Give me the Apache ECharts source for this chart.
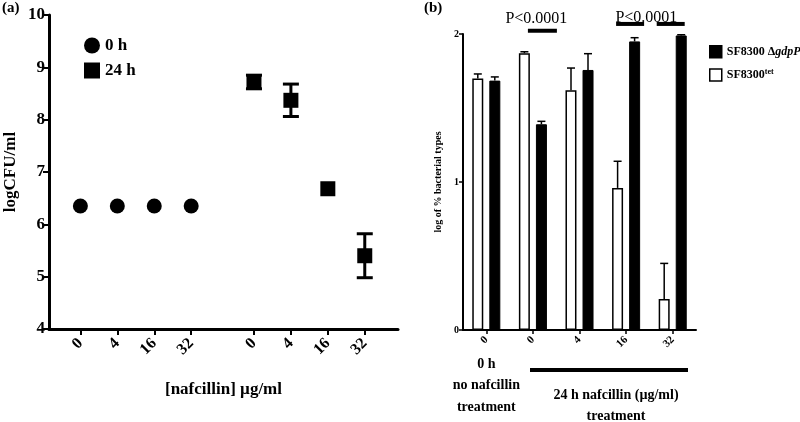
<!DOCTYPE html>
<html>
<head>
<meta charset="utf-8">
<script src="https://cdn.jsdelivr.net/npm/echarts@6/dist/echarts.min.js"></script>
<style>
  html, body { margin: 0; padding: 0; background: #fff; }
  #chart { width: 800px; height: 422px; }
</style>
</head>
<body>
<div id="chart"></div>
<script>
// panel (a): log CFU/ml by nafcillin dose
const doses = ['0', '4', '16', '32'];
const cfu0h = [6.35, 6.35, 6.35, 6.35];
const cfu24h = [8.72, 8.37, 6.68, 5.40];
const cfu24hErr = [0.13, 0.31, 0, 0.42];

// panel (b): log of % bacterial types
const bCats = ['0', '0', '4', '16', '32'];
const tetVals = [1.70, 1.87, 1.62, 0.96, 0.21];
const tetErr = [0.03, 0.01, 0.15, 0.18, 0.24];
const gdpVals = [1.685, 1.39, 1.757, 1.95, 1.99];
const gdpErr = [0.025, 0.02, 0.11, 0.025, 0.005];

const FONT = 'Liberation Serif';
const groupStart = [0.85, 5.55];
const pos = (g, i) => groupStart[g] + i;
const tickPos = [0, 1].flatMap(g => doses.map((d, i) => pos(g, i)));

const BAR_W = 11;
const BAR_OFF = 8.5;

const chart = echarts.init(document.getElementById('chart'));

function leftErr(params, api) {
  if (!api.value(2)) return null;
  const x = api.value(0);
  const lo = api.coord([x, api.value(1) - api.value(2)]);
  const hi = api.coord([x, api.value(1) + api.value(2)]);
  const cap = 8;
  const style = { stroke: '#000', lineWidth: 3 };
  return {
    type: 'group',
    children: [
      { type: 'line', shape: { x1: lo[0], y1: lo[1], x2: hi[0], y2: hi[1] }, style },
      { type: 'line', shape: { x1: hi[0] - cap, y1: hi[1], x2: hi[0] + cap, y2: hi[1] }, style },
      { type: 'line', shape: { x1: lo[0] - cap, y1: lo[1], x2: lo[0] + cap, y2: lo[1] }, style }
    ]
  };
}

function upperErr(offset) {
  return function (params, api) {
    const base = api.coord([api.value(0), api.value(1)]);
    const top = api.coord([api.value(0), api.value(1) + api.value(2)]);
    const x = base[0] + offset;
    const cap = 4;
    const style = { stroke: '#000', lineWidth: 1.5 };
    return {
      type: 'group',
      children: [
        { type: 'line', shape: { x1: x, y1: base[1], x2: x, y2: top[1] }, style },
        { type: 'line', shape: { x1: x - cap, y1: top[1], x2: x + cap, y2: top[1] }, style }
      ]
    };
  };
}

const boldText = (size) => ({ color: '#000', fontFamily: FONT, fontWeight: 'bold', fontSize: size });

const option = {
  backgroundColor: '#fff',
  animation: false,
  grid: [
    { left: 49, top: 15, right: 402, bottom: 93 },
    { left: 463, top: 34, right: 104, bottom: 92 }
  ],
  legend: [
    {
      orient: 'vertical',
      left: 79,
      top: 32,
      itemWidth: 16,
      itemHeight: 16,
      itemGap: 8,
      textStyle: boldText(17),
      data: [
        { name: '0 h', icon: 'circle' },
        { name: '24 h', icon: 'rect' }
      ]
    },
    {
      orient: 'vertical',
      left: 704,
      top: 40,
      itemWidth: 12,
      itemHeight: 12,
      itemGap: 9,
      textStyle: Object.assign(boldText(12), {
        rich: {
          a: boldText(12),
          i: { color: '#000', fontFamily: FONT, fontWeight: 'bold', fontStyle: 'italic', fontSize: 12 },
          s: { color: '#000', fontFamily: FONT, fontWeight: 'bold', fontSize: 8, padding: [0, 0, 7, 0] }
        }
      }),
      formatter: function (name) {
        if (name === 'SF8300 ΔgdpP') return '{a|SF8300 Δ}{i|gdpP}';
        return '{a|SF8300}{s|tet}';
      },
      data: [
        { name: 'SF8300 ΔgdpP', icon: 'rect', itemStyle: { color: '#000', borderColor: '#000', borderWidth: 1.5 } },
        { name: 'SF8300 tet', icon: 'rect', itemStyle: { color: '#fff', borderColor: '#000', borderWidth: 1.5 } }
      ]
    }
  ],
  xAxis: [
    {
      gridIndex: 0,
      type: 'value',
      min: 0,
      max: 9.45,
      name: '[nafcillin] µg/ml',
      nameLocation: 'middle',
      nameGap: 52,
      nameTextStyle: boldText(17),
      splitLine: { show: false },
      axisLine: { show: true, onZero: false, lineStyle: { color: '#000', width: 3 } },
      axisTick: { show: true, customValues: tickPos, length: 6, lineStyle: { color: '#000', width: 2 } },
      axisLabel: Object.assign(boldText(16), {
        customValues: tickPos,
        rotate: 45,
        margin: 12,
        formatter: function (v) {
          const idx = tickPos.findIndex(p => Math.abs(p - v) < 1e-6);
          return idx >= 0 ? doses[idx % doses.length] : '';
        }
      })
    },
    {
      gridIndex: 1,
      type: 'category',
      data: bCats,
      boundaryGap: true,
      axisLine: { show: true, onZero: false, lineStyle: { color: '#000', width: 2 } },
      axisTick: { show: true, alignWithLabel: true, length: 4, lineStyle: { color: '#000', width: 1.5 } },
      axisLabel: Object.assign(boldText(11), { rotate: 45, margin: 8, interval: 0 })
    }
  ],
  yAxis: [
    {
      gridIndex: 0,
      type: 'value',
      min: 4,
      max: 10,
      interval: 1,
      name: 'logCFU/ml',
      nameLocation: 'middle',
      nameGap: 30,
      nameTextStyle: boldText(17),
      splitLine: { show: false },
      axisLine: { show: true, lineStyle: { color: '#000', width: 3 } },
      axisTick: { show: true, length: 6, lineStyle: { color: '#000', width: 2 } },
      axisLabel: Object.assign(boldText(17), { margin: 4 })
    },
    {
      gridIndex: 1,
      type: 'value',
      min: 0,
      max: 2,
      interval: 1,
      name: 'log of % bacterial types',
      nameLocation: 'middle',
      nameGap: 20,
      nameTextStyle: boldText(10),
      splitLine: { show: false },
      axisLine: { show: true, lineStyle: { color: '#000', width: 2 } },
      axisTick: { show: true, length: 4, lineStyle: { color: '#000', width: 1.5 } },
      axisLabel: Object.assign(boldText(10), { margin: 4 })
    }
  ],
  series: [
    {
      name: '0 h',
      type: 'scatter',
      xAxisIndex: 0,
      yAxisIndex: 0,
      symbol: 'circle',
      symbolSize: 15,
      itemStyle: { color: '#000', opacity: 1 },
      data: cfu0h.map((v, i) => [pos(0, i), v])
    },
    {
      name: '24 h',
      type: 'scatter',
      xAxisIndex: 0,
      yAxisIndex: 0,
      symbol: 'rect',
      symbolSize: 15,
      itemStyle: { color: '#000', opacity: 1 },
      data: cfu24h.map((v, i) => [pos(1, i), v]),
      z: 3
    },
    {
      type: 'custom',
      xAxisIndex: 0,
      yAxisIndex: 0,
      renderItem: leftErr,
      data: cfu24h.map((v, i) => [pos(1, i), v, cfu24hErr[i]]),
      z: 2
    },
    {
      name: 'SF8300 tet',
      type: 'bar',
      xAxisIndex: 1,
      yAxisIndex: 1,
      barWidth: BAR_W,
      barGap: '55%',
      itemStyle: { color: '#fff', borderColor: '#000', borderWidth: 1.5 },
      data: tetVals
    },
    {
      name: 'SF8300 ΔgdpP',
      type: 'bar',
      xAxisIndex: 1,
      yAxisIndex: 1,
      barWidth: BAR_W,
      barGap: '55%',
      itemStyle: { color: '#000', borderColor: '#000', borderWidth: 1 },
      data: gdpVals
    },
    {
      type: 'custom',
      xAxisIndex: 1,
      yAxisIndex: 1,
      renderItem: upperErr(-BAR_OFF),
      data: tetVals.map((v, i) => [i, v, tetErr[i]]),
      z: 3
    },
    {
      type: 'custom',
      xAxisIndex: 1,
      yAxisIndex: 1,
      renderItem: upperErr(BAR_OFF),
      data: gdpVals.map((v, i) => [i, v, gdpErr[i]]),
      z: 3
    }
  ]
};

chart.setOption(option);

// annotations placed from the category axis of panel (b)
const px = (cat, val) => chart.convertToPixel({ gridIndex: 1 }, [cat, val]);
const c1 = px(1, 2.022);
const c3 = px(3, 2.068);
const c4 = px(4, 2.068);
const lineStyle = { stroke: '#000', lineWidth: 4 };
const textStyle = (size, bold) => ({
  fill: '#000',
  font: (bold ? 'bold ' : '') + size + 'px "' + FONT + '"',
  textAlign: 'center',
  textVerticalAlign: 'middle'
});

chart.setOption({
  graphic: [
    { type: 'text', left: 2, top: 1, style: { text: '(a)', fill: '#000', font: 'bold 15px "' + FONT + '"' } },
    { type: 'text', left: 424, top: 1, style: { text: '(b)', fill: '#000', font: 'bold 15px "' + FONT + '"' } },
    { type: 'line', shape: { x1: c1[0] - 5, y1: c1[1], x2: c1[0] + 24, y2: c1[1] }, style: lineStyle },
    { type: 'line', shape: { x1: c3[0] - 10, y1: c3[1], x2: c3[0] + 18, y2: c3[1] }, style: lineStyle },
    { type: 'line', shape: { x1: c4[0] - 16, y1: c4[1], x2: c4[0] + 12, y2: c4[1] }, style: lineStyle },
    { type: 'text', x: c1[0] + 3.5, y: 19, style: Object.assign({ text: 'P<0.0001' }, textStyle(16, false)) },
    { type: 'text', x: (c3[0] + c4[0]) / 2 - 3, y: 18, style: Object.assign({ text: 'P<0.0001' }, textStyle(16, false)) },
    { type: 'text', x: px(0, 0)[0], y: 364, style: Object.assign({ text: '0 h' }, textStyle(14, true)) },
    { type: 'text', x: px(0, 0)[0], y: 385, style: Object.assign({ text: 'no nafcillin' }, textStyle(14, true)) },
    { type: 'text', x: px(0, 0)[0], y: 407, style: Object.assign({ text: 'treatment' }, textStyle(14, true)) },
    { type: 'line', shape: { x1: 530, y1: 370, x2: 688, y2: 370 }, style: lineStyle },
    { type: 'text', x: 616, y: 395, style: Object.assign({ text: '24 h nafcillin (µg/ml)' }, textStyle(14, true)) },
    { type: 'text', x: 616, y: 416, style: Object.assign({ text: 'treatment' }, textStyle(14, true)) }
  ]
});
</script>
</body>
</html>
